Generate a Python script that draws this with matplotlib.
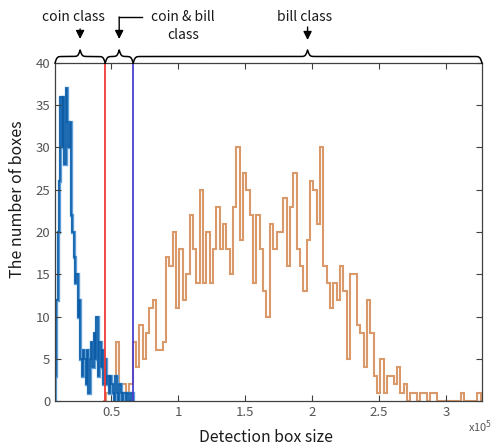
import numpy as np
import matplotlib
matplotlib.use("Agg")
import matplotlib.pyplot as plt

plt.rcParams['font.family'] = ['Noto Sans CJK KR', 'DejaVu Sans']

# ---------------------------------------
# Data
# ---------------------------------------

# coin class histogram (fine bins)
coin_start = 8000
coin_width = 1000
coin_counts = [3, 12, 20, 26, 36, 30, 36, 28, 37, 33,
               30, 33, 22, 20, 17, 14, 15, 10, 12, 5,
               3, 6, 5, 2, 6, 1, 5, 7, 4, 8,
               5, 10, 3, 7, 4, 6, 2, 5, 2, 3,
               1, 3, 2, 1, 0, 3, 1, 0, 2, 1,
               0, 1, 1, 0, 1, 0, 0, 1]

# bill class histogram
bill_start = 43500
bill_width = 2500
bill_counts = [0, 1, 2, 2, 7, 2, 2, 1, 2, 7,
               4, 9, 5, 8, 11, 12, 6, 6, 7, 17,
               16, 20, 11, 18, 12, 15, 22, 18, 14, 25,
               14, 20, 14, 18, 23, 18, 21, 18, 15, 23,
               30, 19, 27, 25, 22, 14, 22, 18, 13, 10,
               21, 18, 20, 20, 24, 16, 23, 27, 18, 16,
               13, 19, 26, 25, 21, 30, 16, 14, 11, 14,
               12, 16, 13, 5, 15, 15, 9, 8, 4, 12,
               8, 3, 1, 5, 1, 3, 3, 2, 4, 1,
               2, 0, 1, 1, 0, 1, 1, 0, 1, 1,
               0, 0, 0, 0, 0, 0, 0, 1, 0, 0,
               0, 0, 1]

coin_limit = 45500     # red line
bill_limit = 66400     # blue line

x_min, x_max = 8000, 327000
x_ticks = [50000, 100000, 150000, 200000, 250000, 300000]
y_ticks = [0, 5, 10, 15, 20, 25, 30, 35, 40]

coin_edges = coin_start + coin_width * np.arange(len(coin_counts) + 1)
bill_edges = bill_start + bill_width * np.arange(len(bill_counts) + 1)

# ---------------------------------------
# Figure
# ---------------------------------------

W, H = 496, 448
fig = plt.figure(figsize=(W / 100, H / 100), dpi=100)

ax_l, ax_r, ax_t, ax_b = 55, 482, 63, 401
ax = fig.add_axes([ax_l / W, 1 - ax_b / H, (ax_r - ax_l) / W, (ax_b - ax_t) / H])

ax.stairs(bill_counts, bill_edges, color="#d9996a", lw=1.5)
ax.stairs(coin_counts, coin_edges, color="#5d9fd6", lw=2.4)
ax.stairs(coin_counts, coin_edges, color="#0c5ca8", lw=1.1)

ax.axvline(coin_limit, color="#f03a3a", lw=1.3)
ax.axvline(bill_limit, color="#4a3fd0", lw=1.3)

ax.set_xlim(x_min, x_max)
ax.set_ylim(0, 40)
ax.set_xticks(x_ticks)
ax.set_xticklabels([f"{t / 1e5:g}" for t in x_ticks])
ax.set_yticks(y_ticks)

ax.tick_params(direction="in", top=True, right=True, length=4, width=0.8,
               colors="#404040", labelsize=9.5, labelcolor="#555555")
for s in ax.spines.values():
    s.set_color("#404040")
    s.set_linewidth(0.9)

# ---------------------------------------
# Overlay in pixel coords for labels and braces
# ---------------------------------------

ov = fig.add_axes([0, 0, 1, 1], facecolor="none")
ov.set_xlim(0, W)
ov.set_ylim(H, 0)
ov.axis("off")


def to_px(x):
    return ax_l + (x - x_min) / (x_max - x_min) * (ax_r - ax_l)


def brace(x0, x1, ybot, h, beta=1.0):
    n = 301
    xs = np.linspace(x0, x1, n)
    xh = xs[:n // 2 + 1]
    yh = 1 / (1 + np.exp(-beta * (xh - xh[0]))) + 1 / (1 + np.exp(-beta * (xh - xh[-1])))
    ys = np.concatenate((yh, yh[-2::-1])) - 0.5
    ov.plot(xs, ybot - h * ys, color="black", lw=1.1)


p0, p1, p2, p3 = to_px(x_min), to_px(coin_limit), to_px(bill_limit), to_px(x_max)
brace(p0, p1, ax_t, 13)
brace(p1, p2, ax_t, 13)
brace(p2, p3, ax_t, 13)

arrow = dict(arrowstyle="-|>,head_length=0.5,head_width=0.25", color="black", lw=1.0,
             shrinkA=0, shrinkB=0)
c1, c2, c3 = (p0 + p1) / 2, (p1 + p2) / 2, (p2 + p3) / 2
ov.annotate("", xy=(c1, 39), xytext=(c1, 29), arrowprops=arrow)
ov.annotate("", xy=(c2, 39), xytext=(c2, 17), arrowprops=arrow)
ov.plot([c2, 142], [17, 17], color="black", lw=1.0)
ov.annotate("", xy=(c3, 40), xytext=(c3, 27), arrowprops=arrow)

ov.text(73, 17, "coin class", ha="center", va="center", fontsize=10, color="#1a1a1a")
ov.text(183, 17, "coin & bill", ha="center", va="center", fontsize=10, color="#1a1a1a")
ov.text(183, 35, "class", ha="center", va="center", fontsize=10, color="#1a1a1a")
ov.text(305, 17, "bill class", ha="center", va="center", fontsize=10, color="#1a1a1a")

ov.text(18, 199, "The number of boxes", ha="center", va="center", rotation=90,
        fontsize=11.5, color="#1a1a1a")
ov.text(266, 437, "Detection box size", ha="center", va="center",
        fontsize=11.3, color="#1a1a1a")
ov.text(480, 427, r"x10$^5$", ha="center", va="center", fontsize=8, color="#555555")

plt.savefig("out.png", dpi=100)
